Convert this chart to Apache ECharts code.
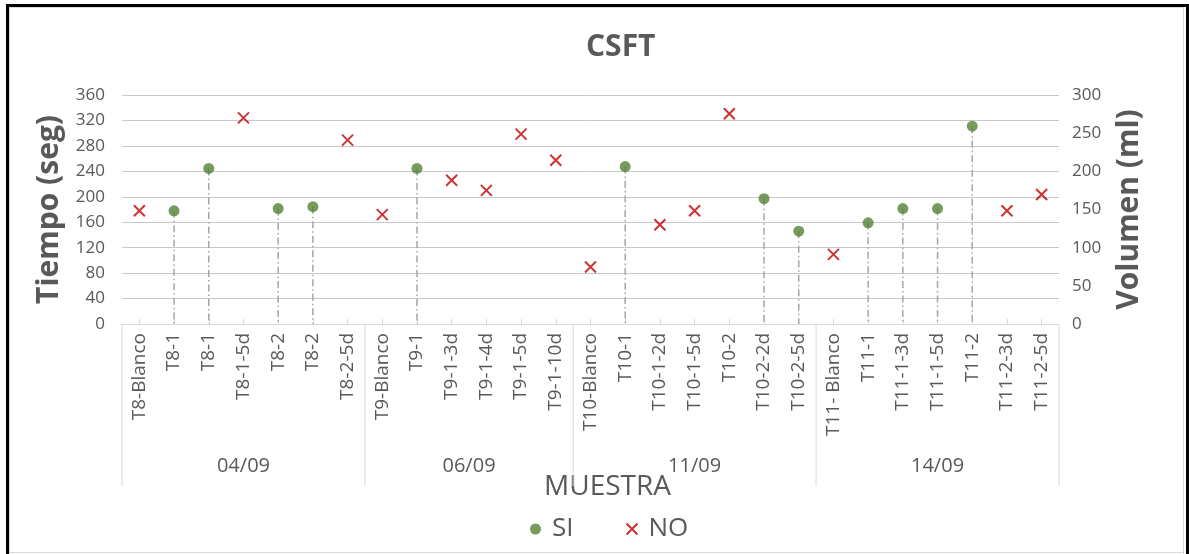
<!DOCTYPE html>
<html>
<head>
<meta charset="utf-8">
<script src="https://cdn.jsdelivr.net/npm/echarts@6/dist/echarts.min.js"></script>
<style>
  html, body { margin: 0; padding: 0; background: #ffffff; }
  #wrap { position: relative; width: 1189px; height: 554px; overflow: hidden; }
  #chart { position: absolute; left: 0; top: 0; width: 1189px; height: 554px; }
  .f { position: absolute; pointer-events: none; }
</style>
</head>
<body>
<div id="wrap">
  <div id="chart"></div>
  <div class="f" style="left:6px;top:4px;width:1183px;height:3px;background:#000"></div>
  <div class="f" style="left:6px;top:4px;width:3px;height:550px;background:#000"></div>
  <div class="f" style="left:1186px;top:4px;width:3px;height:550px;background:#000"></div>
  <div class="f" style="left:9px;top:7px;width:1174px;height:1px;background:#d9d9d9"></div>
  <div class="f" style="left:9px;top:7px;width:1px;height:547px;background:#d9d9d9"></div>
  <div class="f" style="left:1183px;top:7px;width:1px;height:547px;background:#d9d9d9"></div>
  <div class="f" style="left:9px;top:552px;width:1175px;height:1px;background:#d9d9d9"></div>
</div>
<script>
// ---- data ----
const categories = [
  'T8-Blanco','T8-1','T8-1','T8-1-5d','T8-2','T8-2','T8-2-5d',
  'T9-Blanco','T9-1','T9-1-3d','T9-1-4d','T9-1-5d','T9-1-10d',
  'T10-Blanco','T10-1','T10-1-2d','T10-1-5d','T10-2','T10-2-2d','T10-2-5d',
  'T11- Blanco','T11-1','T11-1-3d','T11-1-5d','T11-2','T11-2-3d','T11-2-5d'
];
const siValues = [
  null,178,244.5,null,181.5,184.5,null,
  null,244.5,null,null,null,null,
  null,247.5,null,null,null,197,146,
  null,159,181.5,181.5,311,null,null
];
const noValues = [
  178,null,null,324,null,null,289,
  172,null,226,210,298.5,257.5,
  89.5,null,156,178,330.5,null,null,
  109.5,null,null,null,null,178,203.5
];
const groupLabels = ['04/09','06/09','11/09','14/09'];
const groupSizes = [7,6,7,7];
const leftTicks = {min:0, max:360, interval:40};
const rightTicks = {min:0, max:300, interval:50};

// ---- derived ----
const groupData = [];
let s = 0;
for (let k = 0; k < groupSizes.length; k++) { groupData.push([s, groupSizes[k]]); s += groupSizes[k]; }
const dropData = [];
siValues.forEach((v, i) => { if (v != null) dropData.push([i, v]); });

const FONT = '"Open Sans", "Liberation Sans", sans-serif';
const TXT = '#595959';
const XPATH = 'path://M0,0L10,10M10,0L0,10';

const chart = echarts.init(document.getElementById('chart'), null, {renderer: 'canvas'});
chart.setOption({
  animation: false,
  backgroundColor: 'transparent',
  textStyle: {fontFamily: FONT},
  title: {
    text: 'CSFT', left: 586, top: 32, padding: 0,
    textStyle: {fontFamily: FONT, fontSize: 30, fontWeight: 'bold', color: TXT}
  },
  legend: {
    left: 525, top: 511, itemGap: 52, itemWidth: 11, itemHeight: 11,
    textStyle: {fontFamily: FONT, fontSize: 26, color: TXT, padding: [0,0,0,6]},
    data: [{name: 'SI', icon: 'circle'}, {name: 'NO', icon: XPATH}]
  },
  grid: {left: 122, right: 130, top: 95, bottom: 230, containLabel: false},
  xAxis: {
    type: 'category', data: categories, boundaryGap: true,
    name: 'MUESTRA', nameLocation: 'middle', nameGap: 149,
    nameTextStyle: {fontFamily: FONT, fontSize: 28, color: TXT, padding: [0,0,0,34]},
    axisLine: {show: true, lineStyle: {color: '#d9d9d9', width: 1}},
    axisTick: {show: true, alignWithLabel: true, inside: true, length: 5, lineStyle: {color: '#d9d9d9'}},
    axisLabel: {interval: 0, rotate: 90, margin: 9, fontFamily: FONT, fontSize: 19, color: TXT},
    splitLine: {show: false}
  },
  yAxis: [
    {
      type: 'value', min: leftTicks.min, max: leftTicks.max, interval: leftTicks.interval,
      name: 'Tiempo (seg)', nameLocation: 'middle', nameRotate: 90, nameGap: 41,
      nameTextStyle: {fontFamily: FONT, fontSize: 30, fontWeight: 'bold', color: TXT},
      axisLine: {show: false}, axisTick: {show: false},
      axisLabel: {margin: 17, fontFamily: FONT, fontSize: 17, color: TXT},
      splitLine: {show: true, lineStyle: {color: '#c8c8c8', width: 1}}
    },
    {
      type: 'value', position: 'right', min: rightTicks.min, max: rightTicks.max, interval: rightTicks.interval,
      name: 'Volumen (ml)', nameLocation: 'middle', nameRotate: 90, nameGap: 55,
      nameTextStyle: {fontFamily: FONT, fontSize: 30, fontWeight: 'bold', color: TXT},
      axisLine: {show: false}, axisTick: {show: false},
      axisLabel: {margin: 13, fontFamily: FONT, fontSize: 17, color: TXT},
      splitLine: {show: false}
    }
  ],
  series: [
    {
      type: 'custom', name: 'drop', silent: true, clip: false, z: 1,
      xAxisIndex: 0, yAxisIndex: 0, data: dropData,
      renderItem: function (params, api) {
        const top = api.coord([api.value(0), api.value(1)]);
        const bot = api.coord([api.value(0), 0]);
        return {type: 'line', shape: {x1: top[0], y1: top[1], x2: bot[0], y2: bot[1]},
          style: {stroke: '#a6a6a6', lineWidth: 1.5, lineDash: [7, 3, 1.5, 3]}};
      }
    },
    {
      type: 'custom', name: 'groups', silent: true, clip: false, z: 1,
      xAxisIndex: 0, yAxisIndex: 0, data: groupData,
      renderItem: function (params, api) {
        const start = api.value(0), size = api.value(1);
        const bw = api.size([1, 0])[0];
        const p0 = api.coord([start, 0]);
        const xl = p0[0] - bw / 2;
        const xr = xl + bw * size;
        const y0 = p0[1];
        const children = [
          {type: 'line', shape: {x1: xl, y1: y0, x2: xl, y2: y0 + 162}, style: {stroke: '#d9d9d9', lineWidth: 1}},
          {type: 'text', style: {text: groupLabels[params.dataIndex], x: (xl + xr) / 2, y: y0 + 142,
            align: 'center', verticalAlign: 'middle', fontFamily: FONT, fontSize: 20, fill: TXT}}
        ];
        if (params.dataIndex === groupData.length - 1) {
          children.push({type: 'line', shape: {x1: xr, y1: y0, x2: xr, y2: y0 + 162}, style: {stroke: '#d9d9d9', lineWidth: 1}});
        }
        return {type: 'group', children: children};
      }
    },
    {
      type: 'scatter', name: 'SI', data: siValues, yAxisIndex: 0, z: 3,
      symbol: 'circle', symbolSize: 11,
      itemStyle: {color: '#548235'}
    },
    {
      type: 'scatter', name: 'NO', data: noValues, yAxisIndex: 0, z: 3,
      symbol: XPATH, symbolSize: 11,
      itemStyle: {color: 'rgba(0,0,0,0)', borderColor: '#c00000', borderWidth: 2}
    }
  ]
});
</script>
</body>
</html>
